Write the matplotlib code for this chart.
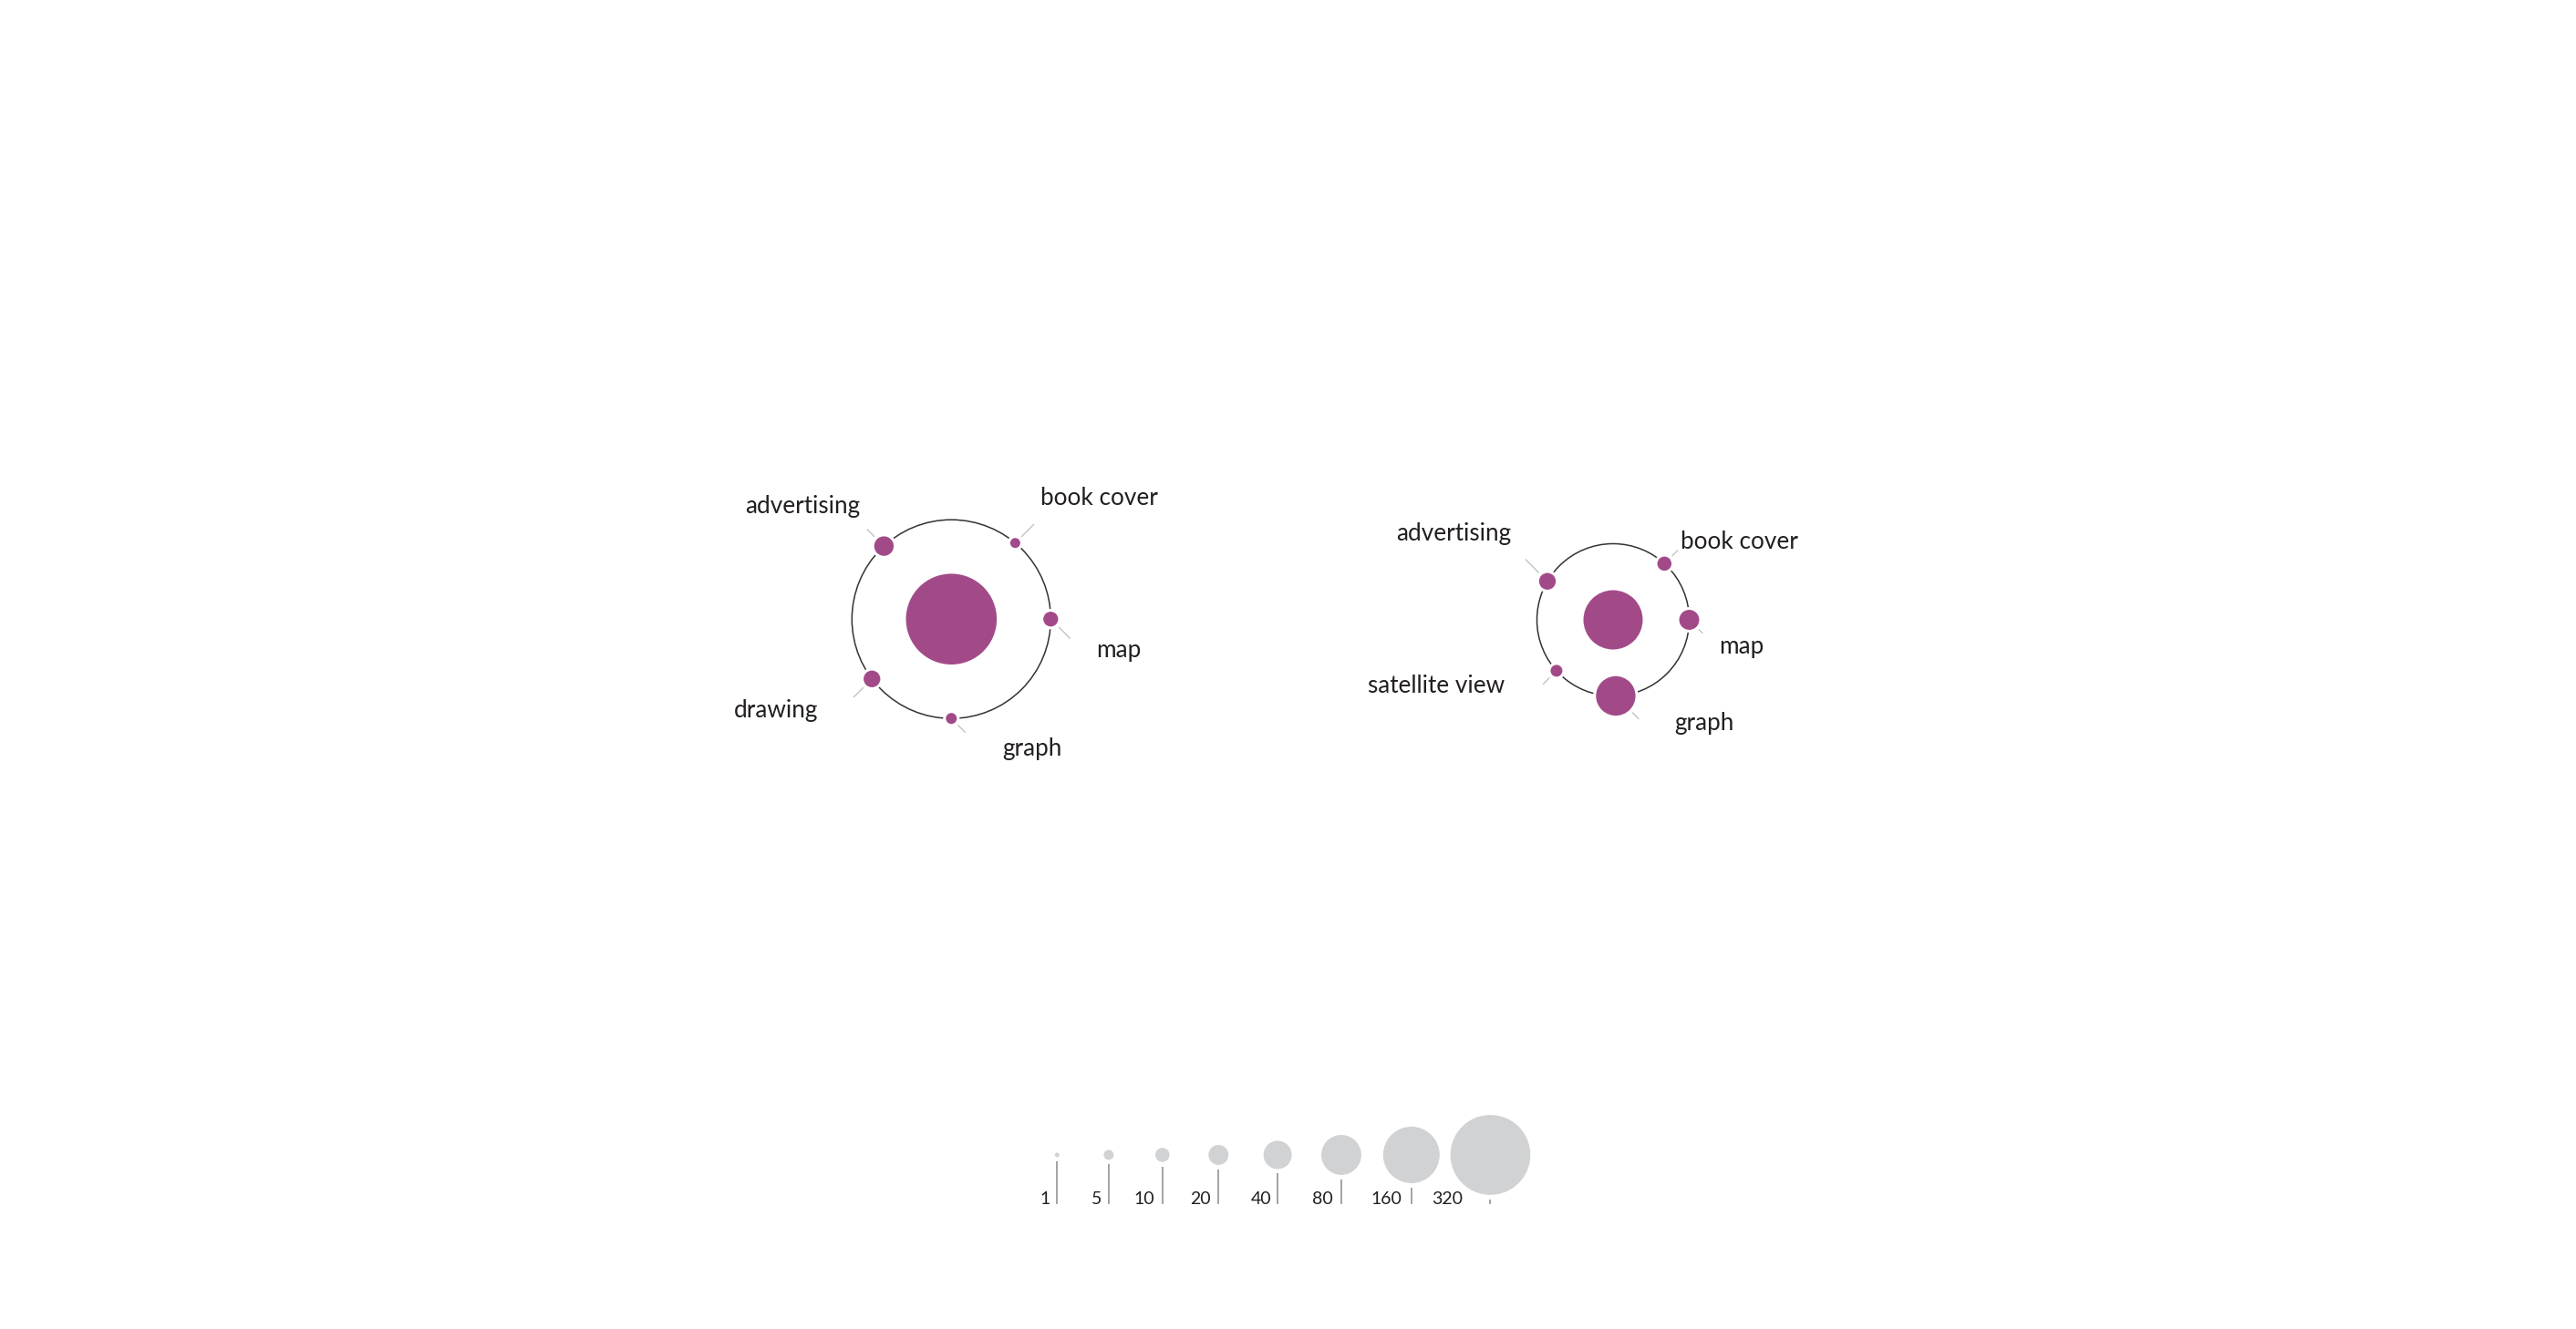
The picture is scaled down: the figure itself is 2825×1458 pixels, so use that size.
import numpy as np
import matplotlib.pyplot as plt
from matplotlib.patches import Circle

# data: two clusters, a centre value and satellite values placed on a ring
left_labels = ['advertising', 'book cover', 'map', 'drawing', 'graph']
left_values = [19, 5, 11, 14, 6]
left_angles = [132.7, 50, 0, 217, 270]
left_center_value = 413

right_labels = ['advertising', 'book cover', 'map', 'satellite view', 'graph']
right_values = [14, 10, 20, 7, 78]
right_angles = [149.6, 47.6, 0, 222, 272]
right_center_value = 176

legend_values = [1, 5, 10, 20, 40, 80, 160, 320]

# layout (pixels)
W, H = 2825, 1458
k = 2.45  # radius = k * sqrt(value)
purple = '#a24a88'
grey = '#d1d2d4'
ink = '#231f20'

clusters = [
    dict(cx=1043.3, cy=679.2, ring=109, labels=left_labels, values=left_values,
         angles=left_angles, center=left_center_value,
         ticks=[11.7, 19.8, 18, 15.6, 11.7],
         offs=[(-26.3, -36), (27.7, -42), (49.6, 41.3), (-58.6, 42.6), (55.6, 41)]),
    dict(cx=1769, cy=680, ring=83.5, labels=right_labels, values=right_values,
         angles=right_angles, center=right_center_value,
         ticks=[21, 9.4, 6.1, 10.5, 10.4],
         offs=[(-39.6, -44.7), (17.3, -16), (33, 37), (-57.3, 24), (64.4, 37.4)]),
]
legend_label_gap = [8, 8, 8.5, 8, 7, 9, 10, 30]

plt.rcParams['font.family'] = ['Lato', 'DejaVu Sans']

fig = plt.figure(figsize=(W / 100, H / 100), dpi=100)
ax = fig.add_axes([0, 0, 1, 1])
ax.set_xlim(0, W)
ax.set_ylim(H, 0)
ax.axis('off')

def rad(v):
    return k * np.sqrt(v)

for c in clusters:
    cx, cy = c['cx'], c['cy']
    ax.add_patch(Circle((cx, cy), c['ring'], fill=False, ec='#333333', lw=1.1, zorder=1))
    ax.add_patch(Circle((cx, cy), rad(c['center']), fc=purple, ec='none', zorder=3))
    for lab, v, a, tl, (ox, oy) in zip(c['labels'], c['values'], c['angles'],
                                        c['ticks'], c['offs']):
        r = rad(v)
        x = cx + c['ring'] * np.cos(np.radians(a))
        y = cy - c['ring'] * np.sin(np.radians(a))
        ax.add_patch(Circle((x, y), r + 3, fc='white', ec='none', zorder=2))
        ax.add_patch(Circle((x, y), r, fc=purple, ec='none', zorder=3))
        sx, sy = np.sign(ox) / np.sqrt(2), np.sign(oy) / np.sqrt(2)
        d0 = r + 4
        ax.plot([x + sx * d0, x + sx * (d0 + tl)], [y + sy * d0, y + sy * (d0 + tl)],
                color='#bdbdbd', lw=0.9, solid_capstyle='butt', zorder=2)
        ax.text(x + ox, y + oy, lab, ha='left' if ox > 0 else 'right', va='baseline',
                fontsize=18.8, color=ink)

# size legend
lx, ly, base = 1159.3, 1267, 1321
prev = None
for v, gap in zip(legend_values, legend_label_gap):
    r = rad(v)
    if prev is not None:
        lx += 53 + 0.45 * (prev + r)
    ax.add_patch(Circle((lx, ly), r, fc=grey, ec='none'))
    ax.plot([lx, lx], [ly + r + 5, base], color='#8a8a8a', lw=1.1, solid_capstyle='butt')
    ax.text(lx - gap, base, str(v), ha='right', va='baseline', fontsize=14, color=ink)
    prev = r

fig.savefig('out.png', dpi=100, facecolor='white')
